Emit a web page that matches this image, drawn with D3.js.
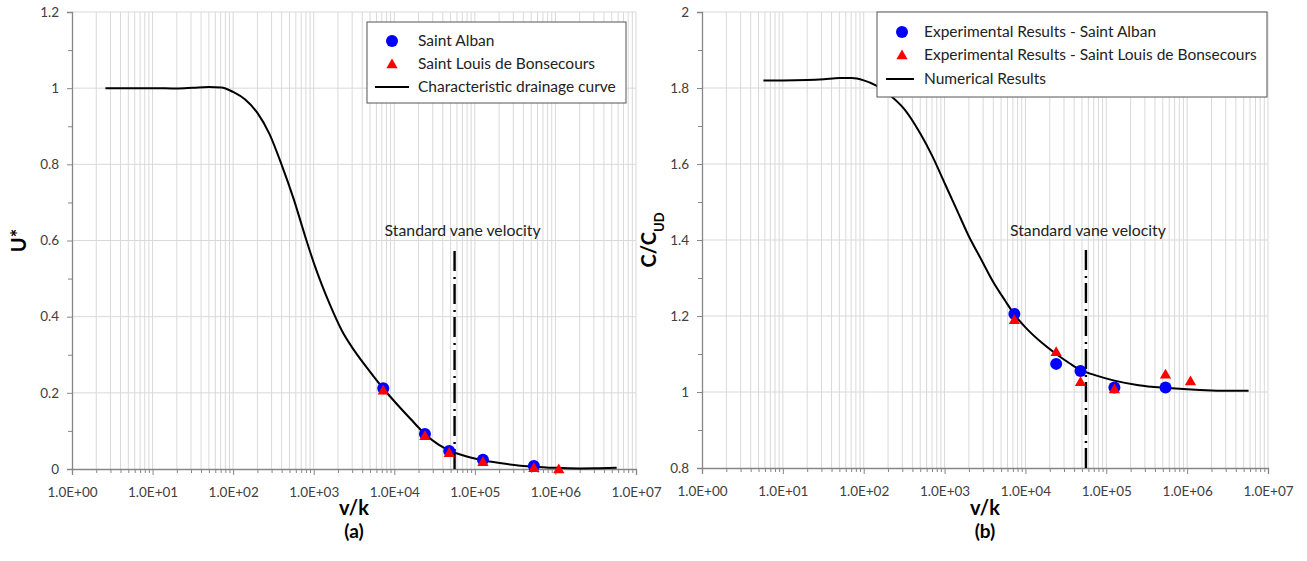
<!DOCTYPE html>
<html>
<head>
<meta charset="utf-8">
<script src="https://cdn.jsdelivr.net/npm/d3@7"></script>
<style>
  body { margin: 0; background: #fff; }
  svg { display: block; font-family: Lato, "Open Sans", sans-serif; }
</style>
</head>
<body>
<svg id="chart" width="1307" height="561"></svg>
<script>
// ---------------- DATA ----------------
const xDecades = [1, 10, 100, 1000, 10000, 100000, 1000000, 10000000];
const xTickLabels = ["1.0E+00","1.0E+01","1.0E+02","1.0E+03","1.0E+04","1.0E+05","1.0E+06","1.0E+07"];

// Panel (a)
const aYTicks = [0, 0.2, 0.4, 0.6, 0.8, 1, 1.2];
const aYTickLabels = ["0","0.2","0.4","0.6","0.8","1","1.2"];
const aAlbanX = [7300, 24000, 48000, 126000, 540000];
const aAlbanY = [0.212, 0.092, 0.047, 0.024, 0.008];
const aLouisX = [7300, 24000, 48000, 126000, 540000, 1100000];
const aLouisY = [0.207, 0.087, 0.043, 0.019, 0.003, 0.0];
const aCurveX = [2.6, 5, 10, 20, 32, 50, 71, 100, 141, 200, 282, 398, 562, 794, 1000, 1259, 1585, 2239, 3162, 5012, 7244, 10000, 15849, 23988, 35481, 47863, 70795, 125893, 251189, 537032, 1000000, 1995262, 3548134, 5754399];
const aCurveY = [1.0, 1.0, 1.0, 0.999, 1.001, 1.003, 1.002, 0.99, 0.97, 0.935, 0.88, 0.80, 0.71, 0.607, 0.542, 0.484, 0.432, 0.363, 0.312, 0.255, 0.212, 0.178, 0.132, 0.092, 0.064, 0.049, 0.036, 0.023, 0.013, 0.006, 0.003, 0.0015, 0.002, 0.003];
const aVaneX = 56000, aVaneTop = 0.585;

// Panel (b)
const bYTicks = [0.8, 1, 1.2, 1.4, 1.6, 1.8, 2];
const bYTickLabels = ["0.8","1","1.2","1.4","1.6","1.8","2"];
const bAlbanX = [7300, 24000, 48000, 126000, 540000];
const bAlbanY = [1.205, 1.074, 1.055, 1.012, 1.012];
const bLouisX = [7300, 24000, 48000, 126000, 540000, 1100000];
const bLouisY = [1.19, 1.106, 1.027, 1.008, 1.047, 1.029];
const bCurveX = [5.75, 10, 20, 32, 50, 71, 100, 141, 200, 316, 501, 708, 1000, 1413, 1995, 2818, 3981, 5623, 7244, 10000, 15849, 23988, 35481, 47863, 70795, 125893, 251189, 537032, 1000000, 1995262, 3548134, 5754399];
const bCurveY = [1.82, 1.82, 1.821, 1.823, 1.826, 1.826, 1.82, 1.807, 1.785, 1.745, 1.68, 1.62, 1.55, 1.48, 1.41, 1.35, 1.29, 1.24, 1.205, 1.17, 1.13, 1.10, 1.075, 1.058, 1.045, 1.03, 1.018, 1.011, 1.007, 1.004, 1.003, 1.003];
const bVaneX = 56000, bVaneTop = 1.384;

const legendA = ["Saint Alban", "Saint Louis de Bonsecours", "Characteristic drainage curve"];
const legendB = ["Experimental Results - Saint Alban", "Experimental Results - Saint Louis de Bonsecours", "Numerical Results"];

// ---------------- DRAW ----------------
const svg = d3.select("#chart");
const AXIS = "#868686", GRID = "#d9d9d9", TXT = "#404040";

function panel(cfg) {
  const g = svg.append("g");
  const x = d3.scaleLog().domain([1, 1e7]).range([cfg.x0, cfg.x1]);
  const y = d3.scaleLinear().domain([cfg.yTicks[0], cfg.yTicks[cfg.yTicks.length-1]]).range([cfg.y0, cfg.y1]);

  // vertical gridlines (major + minor)
  const gridX = [];
  for (let d = 0; d < 7; d++) for (let k = 1; k <= 9; k++) gridX.push(k * Math.pow(10, d));
  gridX.push(1e7);
  g.append("g").selectAll("line").data(gridX.slice(1)).join("line")
    .attr("x1", d => x(d)).attr("x2", d => x(d))
    .attr("y1", cfg.y0).attr("y2", cfg.y1)
    .attr("stroke", GRID).attr("stroke-width", 1);
  // horizontal gridlines
  g.append("g").selectAll("line").data(cfg.yTicks.slice(1)).join("line")
    .attr("x1", cfg.x0).attr("x2", cfg.x1)
    .attr("y1", d => y(d)).attr("y2", d => y(d))
    .attr("stroke", GRID).attr("stroke-width", 1);

  // minor x ticks
  const minorX = gridX.filter(v => !xDecades.includes(v));
  const xMinor = g.append("g").attr("transform", `translate(0,${cfg.y0})`)
    .call(d3.axisBottom(x).tickValues(minorX).tickSize(4).tickFormat(""));
  // major x axis
  const xAx = g.append("g").attr("transform", `translate(0,${cfg.y0})`)
    .call(d3.axisBottom(x).tickValues(xDecades).tickSize(6).tickPadding(12)
      .tickFormat((d, i) => xTickLabels[i]));
  // y minor ticks
  const yMinorVals = [];
  for (let i = 0; i < cfg.yTicks.length - 1; i++) yMinorVals.push((cfg.yTicks[i] + cfg.yTicks[i+1]) / 2);
  const yMinor = g.append("g").attr("transform", `translate(${cfg.x0},0)`)
    .call(d3.axisLeft(y).tickValues(yMinorVals).tickSize(4).tickFormat(""));
  const yAx = g.append("g").attr("transform", `translate(${cfg.x0},0)`)
    .call(d3.axisLeft(y).tickValues(cfg.yTicks).tickSize(5).tickPadding(8)
      .tickFormat((d, i) => cfg.yTickLabels[i]));
  [xMinor, xAx, yMinor, yAx].forEach(a => {
    a.select(".domain").attr("stroke", AXIS).attr("stroke-width", 1.3);
    a.selectAll(".tick line").attr("stroke", AXIS).attr("stroke-width", 1);
    a.selectAll(".tick text").attr("fill", TXT).style("font-size", "13.5px").style("font-family", "Lato, sans-serif");
  });
  xMinor.select(".domain").remove();
  yMinor.select(".domain").remove();

  // vane line
  g.append("line")
    .attr("x1", x(cfg.vaneX)).attr("x2", x(cfg.vaneX))
    .attr("y1", cfg.y0).attr("y2", y(cfg.vaneTop))
    .attr("stroke", "#000").attr("stroke-width", 2.4)
    .attr("stroke-dasharray", "20,5,2,6");
  g.append("text").attr("x", x(cfg.vaneX) + cfg.vaneDx).attr("y", y(cfg.vaneTop) - 10)
    .attr("text-anchor", "middle").attr("fill", "#222").style("font-size", "15.8px")
    .text("Standard vane velocity");

  // curve
  const pts = cfg.curveX.map((v, i) => [v, cfg.curveY[i]]);
  g.append("path").datum(pts)
    .attr("d", d3.line().x(d => x(d[0])).y(d => y(d[1])).curve(d3.curveMonotoneX))
    .attr("fill", "none").attr("stroke", "#000").attr("stroke-width", 2);

  // points
  g.append("g").selectAll("circle").data(cfg.albanX.map((v, i) => [v, cfg.albanY[i]])).join("circle")
    .attr("cx", d => x(d[0])).attr("cy", d => y(d[1])).attr("r", 6).attr("fill", "#0000ff");
  const tri = d3.symbol().type(d3.symbolTriangle).size(55);
  g.append("g").selectAll("path").data(cfg.louisX.map((v, i) => [v, cfg.louisY[i]])).join("path")
    .attr("d", tri).attr("transform", d => `translate(${x(d[0])},${y(d[1]) + 1})`).attr("fill", "#ff0000");

  // legend
  const L = cfg.legend;
  const lg = g.append("g");
  lg.append("rect").attr("x", L.x).attr("y", L.y).attr("width", L.w).attr("height", L.h)
    .attr("fill", "#fff").attr("stroke", "#555").attr("stroke-width", 1);
  L.rows.forEach((ry, i) => {
    if (i === 0) lg.append("circle").attr("cx", L.mx).attr("cy", ry).attr("r", 6).attr("fill", "#0000ff");
    if (i === 1) lg.append("path").attr("d", tri).attr("transform", `translate(${L.mx},${ry + 1})`).attr("fill", "#ff0000");
    if (i === 2) lg.append("line").attr("x1", L.lx1).attr("x2", L.lx2).attr("y1", ry).attr("y2", ry)
      .attr("stroke", "#000").attr("stroke-width", 2);
    lg.append("text").attr("x", L.tx).attr("y", ry).attr("dy", "0.35em")
      .attr("fill", "#222").style("font-size", "15.5px").text(cfg.legendText[i]);
  });

  // axis titles
  const cx = (cfg.x0 + cfg.x1) / 2;
  g.append("text").attr("x", cx).attr("y", 515).attr("text-anchor", "middle")
    .style("font-size", "20px").style("font-weight", "bold").attr("fill", "#000").text("v/k");
  g.append("text").attr("x", cx).attr("y", 538).attr("text-anchor", "middle")
    .style("font-size", "19px").style("font-weight", "bold").attr("fill", "#000").text(cfg.sub);
  const yt = g.append("text").attr("transform", `translate(${cfg.ytx},${(cfg.y0 + cfg.y1) / 2}) rotate(-90)`)
    .attr("text-anchor", "middle").style("font-size", "20px").style("font-weight", "bold").attr("fill", "#000");
  cfg.yTitle(yt);
}

panel({
  x0: 72, x1: 636, y0: 469, y1: 12,
  yTicks: aYTicks, yTickLabels: aYTickLabels,
  albanX: aAlbanX, albanY: aAlbanY, louisX: aLouisX, louisY: aLouisY,
  curveX: aCurveX, curveY: aCurveY, vaneX: aVaneX, vaneTop: aVaneTop, vaneDx: 8,
  legend: { x: 367, y: 22, w: 259, h: 81, rows: [41, 64, 87], mx: 392, lx1: 375, lx2: 409, tx: 418 },
  legendText: legendA, sub: "(a)", ytx: 26,
  yTitle: t => t.text("U*")
});
panel({
  x0: 702, x1: 1268, y0: 468, y1: 12,
  yTicks: bYTicks, yTickLabels: bYTickLabels,
  albanX: bAlbanX, albanY: bAlbanY, louisX: bLouisX, louisY: bLouisY,
  curveX: bCurveX, curveY: bCurveY, vaneX: bVaneX, vaneTop: bVaneTop, vaneDx: 2,
  legend: { x: 877, y: 12, w: 390, h: 85, rows: [32, 55, 79], mx: 902, lx1: 886, lx2: 914, tx: 924 },
  legendText: legendB, sub: "(b)", ytx: 656,
  yTitle: t => { t.append("tspan").text("C/C"); t.append("tspan").attr("baseline-shift", "sub").style("font-size", "13px").text("UD"); }
});
</script>
</body>
</html>
